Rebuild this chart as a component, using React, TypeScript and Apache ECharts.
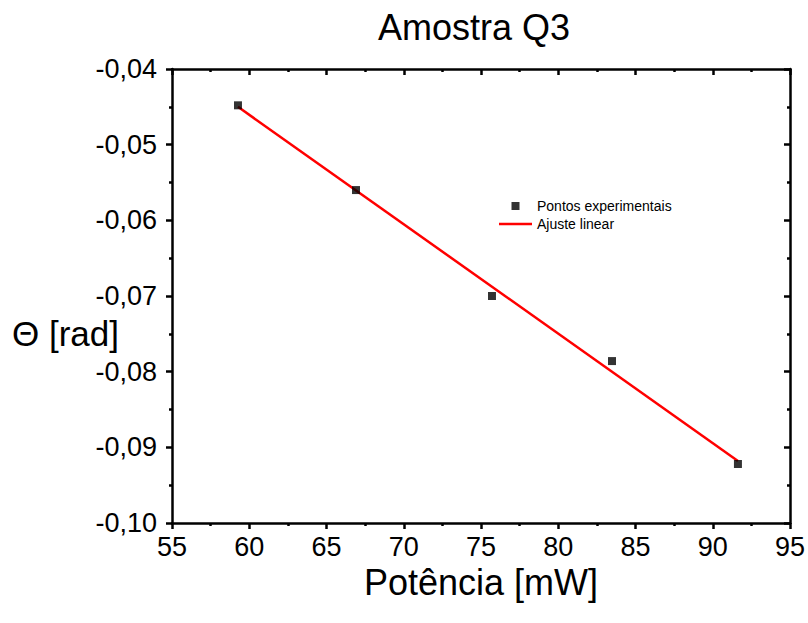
import React, { useEffect, useRef } from "react";
import * as echarts from "echarts";

const titleText = "Amostra Q3";
const xName = "Potência [mW]";
const yName = "Θ [rad]";
const pointsName = "Pontos experimentais";
const fitName = "Ajuste linear";

const powerMW = [59.27, 66.91, 75.71, 83.48, 91.63];
const thetaRad = [-0.0448, -0.0560, -0.0700, -0.0786, -0.0922];

const fitX = [59.27, 91.63];
const fitY = [-0.0450, -0.0918];

const FONT = "Liberation Sans, Arial, sans-serif";

export default function App() {
  const ref = useRef<HTMLDivElement>(null);
  useEffect(() => {
    document.body.style.margin = "0";
    if (!ref.current) return;
    const chart = echarts.init(ref.current, null, { renderer: "svg" });
    const axisLine = { show: true, onZero: false, lineStyle: { color: "#000", width: 2.5 } };
    const tickStyle = { color: "#000", width: 2.5 };
    const xCommon = {
      type: "value" as const,
      min: 55,
      max: 95,
      interval: 5,
      splitLine: { show: false },
      axisLine,
    };
    const yCommon = {
      type: "value" as const,
      min: -0.1,
      max: -0.04,
      interval: 0.01,
      splitLine: { show: false },
      axisLine,
    };
    chart.setOption({
      animation: false,
      backgroundColor: "#fff",
      textStyle: { fontFamily: FONT },
      title: {
        text: titleText,
        left: 373,
        top: 4,
        textStyle: { fontFamily: FONT, fontSize: 36, fontWeight: "normal", color: "#000" },
      },
      grid: { left: 172, right: 18, top: 69, bottom: 100, containLabel: false, outerBoundsMode: "none" },
      legend: {
        orient: "vertical",
        left: 494,
        top: 194,
        itemWidth: 33,
        itemHeight: 8,
        itemGap: 4,
        textStyle: { fontFamily: FONT, fontSize: 14, color: "#000" },
        data: [
          { name: pointsName, icon: "path://M0,0h8v8h-8z" },
          { name: fitName, icon: "path://M0,0h33v2.5h-33z" },
        ],
      },
      graphic: [
        {
          type: "text",
          x: 12,
          y: 333,
          style: {
            text: yName,
            fontFamily: FONT,
            fontSize: 35,
            fill: "#000",
            align: "left",
            verticalAlign: "middle",
          },
        },
      ],
      xAxis: [
        {
          ...xCommon,
          position: "bottom",
          name: xName,
          nameLocation: "middle",
          nameGap: 30,
          nameTextStyle: { fontFamily: FONT, fontSize: 36, color: "#000" },
          axisTick: { show: true, inside: false, length: 6, lineStyle: tickStyle },
          minorTick: { show: true, splitNumber: 2, length: 3, lineStyle: tickStyle },
          axisLabel: { fontFamily: FONT, fontSize: 27, color: "#000", margin: 10 },
        },
        {
          ...xCommon,
          position: "top",
          axisTick: { show: true, inside: true, length: 6, lineStyle: tickStyle },
          minorTick: { show: true, splitNumber: 2, length: 3, lineStyle: tickStyle },
          axisLabel: { show: false },
        },
      ],
      yAxis: [
        {
          ...yCommon,
          position: "left",
          axisTick: { show: true, inside: false, length: 6, lineStyle: tickStyle },
          minorTick: { show: true, splitNumber: 2, length: 3, lineStyle: tickStyle },
          axisLabel: {
            fontFamily: FONT,
            fontSize: 27,
            color: "#000",
            margin: 15,
            formatter: (v: number) => v.toFixed(2).replace(".", ","),
          },
        },
        {
          ...yCommon,
          position: "right",
          axisTick: { show: true, inside: true, length: 6, lineStyle: tickStyle },
          minorTick: { show: true, splitNumber: 2, length: 3, lineStyle: tickStyle },
          axisLabel: { show: false },
        },
      ],
      series: [
        {
          name: fitName,
          type: "line",
          xAxisIndex: 0,
          yAxisIndex: 0,
          data: fitX.map((x, i) => [x, fitY[i]]),
          symbol: "none",
          lineStyle: { color: "#ff0000", width: 2.5 },
          itemStyle: { color: "#ff0000" },
          z: 2,
        },
        {
          name: pointsName,
          type: "scatter",
          xAxisIndex: 0,
          yAxisIndex: 0,
          data: powerMW.map((x, i) => [x, thetaRad[i]]),
          symbol: "rect",
          symbolSize: 8,
          itemStyle: { color: "#000" },
          z: 3,
        },
      ],
    });
    return () => chart.dispose();
  }, []);
  return <div ref={ref} style={{ width: 808, height: 623 }} />;
}
